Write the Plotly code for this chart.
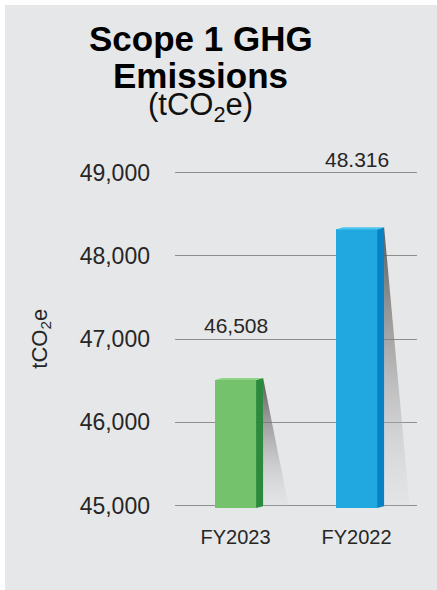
import math
import plotly.graph_objects as go

# ---- data ----
categories = ["FY2023", "FY2022"]
values = [46508, 48316]
value_labels = ["46,508", "48.316"]
y_ticks = [45000, 46000, 47000, 48000, 49000]
y_tick_labels = ["45,000", "46,000", "47,000", "48,000", "49,000"]

# ---- styles ----
front_colors = ["#74c26c", "#22a8e0"]
side_colors = ["#2b8a3b", "#0783c4"]
top_colors = ["#8fd486", "#4cc6ef"]
BG = "#e6e7e9"
FONT = "Liberation Sans"
TXT = "#262626"

Y0, Y1 = 44970, 49030
BW = 0.34   # front face width (x units)
DX = 0.058  # depth in x
DY = 25     # depth in y (data units)
SH = 0.21   # shadow reach

fig = go.Figure()
xs = list(range(len(categories)))

# shadows
for i, v in enumerate(values):
    xr = i + BW / 2 + DX
    fig.add_trace(go.Scatter(
        x=[xr, xr, xr + SH, xr], y=[v + DY, y_ticks[0], y_ticks[0], v + DY],
        fill="toself", mode="none", hoverinfo="skip", showlegend=False,
        fillgradient=dict(type="vertical", colorscale=[
            [0, "rgba(215,216,218,0.2)"], [0.5, "rgba(140,140,140,0.55)"],
            [1, "rgba(70,70,70,0.9)"]]),
    ))

# front faces
fig.add_trace(go.Bar(x=xs, y=values, width=BW, marker_color=front_colors,
                     marker_line_width=0, hoverinfo="skip", showlegend=False))

# side and top faces
for i, v in enumerate(values):
    xl = i - BW / 2
    xr = i + BW / 2
    fig.add_trace(go.Scatter(
        x=[xr, xr + DX, xr + DX, xr, xr], y=[v, v + DY, y_ticks[0] - 10, Y0, v],
        fill="toself", mode="none", fillcolor=side_colors[i],
        hoverinfo="skip", showlegend=False))
    fig.add_trace(go.Scatter(
        x=[xl, xl + DX, xr + DX, xr, xl], y=[v, v + DY, v + DY, v, v],
        fill="toself", mode="none", fillcolor=top_colors[i],
        hoverinfo="skip", showlegend=False))

# value labels sit on the gridline above each bar
for i, (v, lab) in enumerate(zip(values, value_labels)):
    fig.add_annotation(x=i, y=math.ceil(v / 1000) * 1000, text=lab, showarrow=False,
                       yanchor="bottom", xanchor="center", yshift=0,
                       font=dict(family=FONT, size=21, color=TXT))

# title
fig.add_annotation(xref="paper", yref="paper", x=0.107, y=1.388, text="<b>Scope 1 GHG</b>",
                   showarrow=False, xanchor="center", yanchor="middle",
                   font=dict(family=FONT, size=35, color="#000000"))
fig.add_annotation(xref="paper", yref="paper", x=0.107, y=1.281, text="<b>Emissions</b>",
                   showarrow=False, xanchor="center", yanchor="middle",
                   font=dict(family=FONT, size=35, color="#000000"))
fig.add_annotation(xref="paper", yref="paper", x=0.107, y=1.185, text="(tCO<sub>2</sub>e)",
                   showarrow=False, xanchor="center", yanchor="middle",
                   font=dict(family=FONT, size=31, color="#111111"))

# y axis title
fig.add_annotation(xref="paper", yref="paper", x=-0.555, y=0.5, text="tCO<sub>2</sub>e",
                   textangle=-90, showarrow=False, xanchor="center", yanchor="middle",
                   font=dict(family=FONT, size=22, color=TXT))

# background panel
fig.add_shape(type="rect", xref="paper", yref="paper", x0=-0.7025, x1=1.2, y0=-0.4, y1=1.488,
              fillcolor=BG, line_width=0, layer="below")

fig.update_layout(
    width=437, height=590,
    margin=dict(l=175, r=20, t=170, b=82),
    paper_bgcolor="white", plot_bgcolor="rgba(0,0,0,0)",
    showlegend=False, bargap=0,
    xaxis=dict(range=[-0.5, 1.5], tickvals=xs, ticktext=categories, showgrid=False,
               zeroline=False, showline=False, ticks="", ticklabelstandoff=15,
               tickfont=dict(family=FONT, size=20, color=TXT), fixedrange=True),
    yaxis=dict(range=[Y0, Y1], tickvals=y_ticks, ticktext=y_tick_labels, showgrid=True,
               gridcolor="#8e8e8e", gridwidth=1.3, zeroline=False, showline=False,
               ticks="", ticklabelstandoff=24,
               tickfont=dict(family=FONT, size=23, color=TXT), fixedrange=True),
)

fig.write_html("out.html", config={"displayModeBar": False},
               post_script="document.body.style.margin='0px';")
